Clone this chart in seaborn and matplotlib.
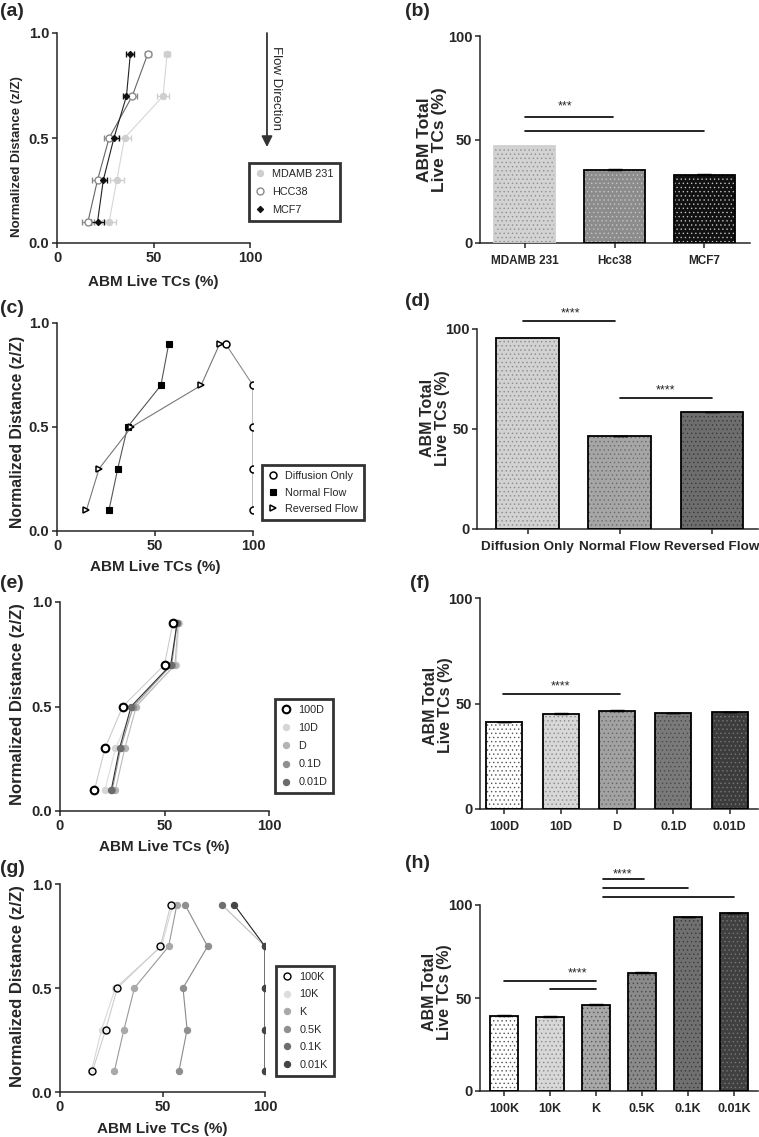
import pandas as pd
import matplotlib
matplotlib.use('Agg')
import matplotlib.pyplot as plt
import seaborn as sns
from matplotlib.lines import Line2D
from matplotlib.patches import Rectangle

# ---- data ----
dist = [0.9, 0.7, 0.5, 0.3, 0.1]

# (a) cell lines, profile along the channel
a_names = ['MDAMB 231', 'HCC38', 'MCF7']
a_mdamb = [57, 55, 35, 31, 27]
a_mdamb_err = [1.5, 3, 3.5, 3.5, 3.5]
a_hcc38 = [47, 39, 27, 21, 16]
a_hcc38_err = [1.5, 2.5, 2.5, 3, 3]
a_mcf7 = [38, 36, 29.5, 24, 21]
a_mcf7_err = [2, 2, 2.5, 2, 3.5]

# (b) totals
b_cats = ['MDAMB 231', 'Hcc38', 'MCF7']
b_vals = [47, 35.5, 33]
b_errs = [0, 0.3, 0.3]

# (c) flow condition profiles
c_names = ['Diffusion Only', 'Normal Flow', 'Reversed Flow']
c_diff = [86, 100, 100, 100, 100]
c_norm = [57, 53, 36, 31, 26.5]
c_rev = [83, 73.5, 38, 21.5, 15]

# (d) totals
d_cats = ['Diffusion Only', 'Normal Flow', 'Reversed Flow']
d_vals = [95.3, 46.3, 58.3]
d_errs = [0, 0.2, 0.2]

# (e) diffusion coefficient profiles
e_names = ['100D', '10D', 'D', '0.1D', '0.01D']
e_100d = [54, 50, 30, 21.5, 16.5]
e_10d = [57, 55.5, 35.5, 26.5, 21.5]
e_d = [56.5, 55, 36.5, 31, 26.5]
e_01d = [56, 53.5, 35, 29, 25]
e_001d = [56, 53, 34, 28.5, 24.5]

# (f) totals
f_cats = ['100D', '10D', 'D', '0.1D', '0.01D']
f_vals = [41.1, 45.2, 46.5, 45.5, 45.8]
f_errs = [0.2, 0.2, 0.2, 0.2, 0.2]

# (g) permeability profiles
g_names = ['100K', '10K', 'K', '0.5K', '0.1K', '0.01K']
g_100k = [54, 49, 28, 22.3, 15.8]
g_10k = [55, 49.5, 27, 20.3, 15.3]
g_k = [57, 53, 36.3, 31.2, 26.5]
g_05k = [61, 72, 60, 62, 58]
g_01k = [79, 100, 100, 100, 100]
g_001k = [85, 100, 100, 100, 100]

# (h) totals
h_cats = ['100K', '10K', 'K', '0.5K', '0.1K', '0.01K']
h_vals = [40.4, 40.0, 46.5, 63.7, 93.4, 95.5]
h_errs = [0.2, 0.2, 0.3, 0.4, 0.2, 0.2]

# significance brackets: (from, to, height)
b_sig = [(0, 0.98, 61), (0, 2, 54.2)]
b_stars = [('***', 0.45, 66)]
d_sig = [(-0.05, 0.95, 104), (1, 2, 65.5)]
d_stars = [('****', 0.47, 108), ('****', 1.5, 69.5)]
f_sig = [(-0.02, 2.05, 54.5)]
f_stars = [('****', 1.0, 58.3)]
h_sig = [(0, 2, 59.2), (1, 2, 54.8), (2.15, 3.05, 113.8), (2.15, 4, 109), (2.15, 5, 104.5)]
h_stars = [('****', 1.6, 63), ('****', 2.57, 116.7)]

# ---- style ----
sns.set_style('ticks')
plt.rcParams['font.family'] = ['Liberation Sans', 'DejaVu Sans']
plt.rcParams['axes.linewidth'] = 1.1
plt.rcParams['hatch.linewidth'] = 0.5

W, H = 759, 1137
fig = plt.figure(figsize=(W / 100, H / 100), dpi=100)


def px_axes(l, r, t, b):
    return fig.add_axes([l / W, 1 - b / H, (r - l) / W, (b - t) / H])


def style_line_axes(ax, ylab_size, ycoords, xcoords):
    ax.set_xlim(0, 100)
    ax.set_ylim(0, 1)
    ax.set_xticks([0, 50, 100])
    ax.set_yticks([0, 0.5, 1.0])
    ax.set_yticklabels(['0.0', '0.5', '1.0'])
    sns.despine(ax=ax)
    ax.tick_params(direction='out', length=3.5, width=1.1, labelsize=10.5, pad=2)
    for lab in ax.get_xticklabels() + ax.get_yticklabels():
        lab.set_fontweight('bold')
    ax.set_xlabel('ABM Live TCs (%)', fontsize=11, fontweight='bold')
    ax.set_ylabel('Normalized Distance (z/Z)', fontsize=ylab_size, fontweight='bold')
    ax.xaxis.set_label_coords(*xcoords)
    ax.yaxis.set_label_coords(*ycoords)


def draw_profile(ax, vals, line_color, marker, ms, mfc, mec, mew=0.8, z=2):
    sns.lineplot(x=vals, y=dist, sort=False, estimator=None, ax=ax, color=line_color,
                 lw=0.8, marker=marker, markersize=ms, markerfacecolor=mfc,
                 markeredgecolor=mec, markeredgewidth=mew, legend=False, zorder=z)


def box_legend(ax, handles, labels, anchor, spacing):
    leg = ax.legend(handles, labels, loc='upper left', bbox_to_anchor=anchor,
                    borderaxespad=0, frameon=True, fancybox=False, fontsize=7.8,
                    handlelength=1.0, handletextpad=0.6, borderpad=0.55,
                    labelspacing=spacing)
    leg.get_frame().set_edgecolor('black')
    leg.get_frame().set_linewidth(2)
    return leg


def mk(marker, mfc, mec, ms=4.5, mew=0.8):
    return Line2D([], [], ls='none', marker=marker, markersize=ms,
                  markerfacecolor=mfc, markeredgecolor=mec, markeredgewidth=mew)


def bar_panel(ax, cats, vals, errs, fills, dots, edges, width, xlim, tick_size,
              ylab_size, ylab_coords, sigs, stars):
    df = pd.DataFrame({'cat': cats, 'val': vals})
    sns.barplot(data=df, x='cat', y='val', hue='cat', palette=dict(zip(cats, fills)),
                legend=False, width=width, saturation=1, linewidth=0, errorbar=None, ax=ax)
    for p, dc, ec in zip(ax.patches, dots, edges):
        p.set_hatch('....')
        p.set_edgecolor(dc)
        p.set_linewidth(0)
        ax.add_patch(Rectangle(p.get_xy(), p.get_width(), p.get_height(), fill=False,
                               ec=ec, lw=1.3, zorder=3))
    idx = [i for i, e in enumerate(errs) if e > 0]
    ax.errorbar(idx, [vals[i] for i in idx], yerr=[[0] * len(idx), [errs[i] for i in idx]],
                fmt='none', ecolor='black', elinewidth=1, capsize=5, capthick=1, zorder=4)
    ax.set_xlim(*xlim)
    ax.set_ylim(0, 100)
    ax.set_yticks([0, 50, 100])
    sns.despine(ax=ax)
    ax.tick_params(direction='out', length=3.5, width=1.1, pad=2)
    ax.tick_params(axis='x', labelsize=tick_size, pad=5)
    ax.tick_params(axis='y', labelsize=10.5)
    for lab in ax.get_xticklabels() + ax.get_yticklabels():
        lab.set_fontweight('bold')
    ax.set_xlabel('')
    ax.set_ylabel('ABM Total\nLive TCs (%)', fontsize=ylab_size, fontweight='bold',
                  linespacing=1.0)
    ax.yaxis.set_label_coords(*ylab_coords)
    for x0, x1, y in sigs:
        ax.plot([x0, x1], [y, y], color='black', lw=1.2, clip_on=False)
    for s, x, y in stars:
        ax.text(x, y, s, ha='center', va='center', fontsize=9, clip_on=False)


# ---- (a) ----
ax = px_axes(57, 250, 33, 243)
ax.errorbar(a_mdamb, dist, xerr=a_mdamb_err, fmt='none', ecolor='#cfcfcf', elinewidth=0.9, capsize=2)
ax.errorbar(a_hcc38, dist, xerr=a_hcc38_err, fmt='none', ecolor='#8a8a8a', elinewidth=0.9, capsize=2)
ax.errorbar(a_mcf7, dist, xerr=a_mcf7_err, fmt='none', ecolor='#111111', elinewidth=0.9, capsize=2)
draw_profile(ax, a_mdamb, '#d6d6d6', 'o', 4.5, '#cfcfcf', '#cfcfcf')
draw_profile(ax, a_hcc38, '#666666', 'o', 5, 'white', '#8a8a8a', 1.0)
draw_profile(ax, a_mcf7, '#222222', 'D', 3.2, '#111111', '#111111')
style_line_axes(ax, 9.5, (-0.176, 0.41), (0.5, -0.152))
box_legend(ax, [mk('o', '#cfcfcf', '#cfcfcf'), mk('o', 'white', '#8a8a8a', 5, 1.0),
                mk('D', '#111111', '#111111', 3.2)], a_names, (0.995, 0.381), 0.75)
ax.annotate('', xy=(1.088, 0.457), xytext=(1.088, 1.0), xycoords='axes fraction',
            arrowprops=dict(arrowstyle='-|>', color='#333333', lw=1.3, mutation_scale=16,
                            shrinkA=0, shrinkB=0), annotation_clip=False)
ax.text(1.135, 0.738, 'Flow Direction', rotation=270, transform=ax.transAxes,
        ha='center', va='center', fontsize=9.5)

# ---- (b) ----
ax = px_axes(480, 750, 36, 243)
bar_panel(ax, b_cats, b_vals, b_errs, ['#d3d3d3', '#8c8c8c', '#111111'],
          ['#8f8f8f', '#c4c4c4', '#bdbdbd'], ['#d0d0d0', 'black', 'black'], 0.68,
          (-0.5, 2.51), 8.5, 12.5, (-0.122, 0.5), b_sig, b_stars)

# ---- (c) ----
ax = px_axes(57, 253, 323, 531)
draw_profile(ax, c_diff, '#8a8a8a', 'o', 5, 'white', 'black', 1.1)
draw_profile(ax, c_norm, '#555555', 's', 4.5, 'black', 'black')
draw_profile(ax, c_rev, '#777777', '>', 5, 'white', 'black', 1.1)
style_line_axes(ax, 11.3, (-0.163, 0.476), (0.5, -0.139))
box_legend(ax, [mk('o', 'white', 'black', 5, 1.1), mk('s', 'black', 'black'),
                mk('>', 'white', 'black', 5, 1.1)], c_names, (1.046, 0.317), 0.6)

# ---- (d) ----
ax = px_axes(477, 758, 329, 529)
bar_panel(ax, d_cats, d_vals, d_errs, ['#d2d2d2', '#a6a6a6', '#6e6e6e'],
          ['#8a8a8a', '#6a6a6a', '#3a3a3a'], ['black', 'black', 'black'], 0.68,
          (-0.55, 2.5), 9.7, 11.5, (-0.096, 0.555), d_sig, d_stars)

# ---- (e) ----
ax = px_axes(60, 269, 602, 811)
e_cols = ['#d6d6d6', '#b3b3b3', '#8f8f8f', '#6b6b6b']
draw_profile(ax, e_10d, '#dddddd', 'o', 4.5, e_cols[0], e_cols[0], z=2)
draw_profile(ax, e_d, '#bbbbbb', 'o', 4.5, e_cols[1], e_cols[1], z=2)
draw_profile(ax, e_01d, '#999999', 'o', 4.5, e_cols[2], e_cols[2], z=2)
draw_profile(ax, e_001d, '#333333', 'o', 4.5, e_cols[3], e_cols[3], z=2)
draw_profile(ax, e_100d, '#cccccc', 'o', 5.5, 'white', 'black', 1.5, z=3)
style_line_axes(ax, 12, (-0.167, 0.512), (0.5, -0.139))
box_legend(ax, [mk('o', 'white', 'black', 5.5, 1.5)] + [mk('o', c, c) for c in e_cols],
           e_names, (1.029, 0.536), 0.75)

# ---- (f) ----
ax = px_axes(480, 758, 598, 809)
bar_panel(ax, f_cats, f_vals, f_errs, ['#ffffff', '#d8d8d8', '#a2a2a2', '#7a7a7a', '#3c3c3c'],
          ['#555555', '#8a8a8a', '#666666', '#4a4a4a', '#777777'], ['black'] * 5, 0.64,
          (-0.43, 4.5), 9, 11.5, (-0.097, 0.49), f_sig, f_stars)

# ---- (g) ----
ax = px_axes(60, 265, 884, 1092)
g_cols = ['#dddddd', '#a9a9a9', '#8f8f8f', '#6e6e6e', '#444444']
draw_profile(ax, g_10k, '#d8d8d8', 'o', 4.5, g_cols[0], g_cols[0])
draw_profile(ax, g_k, '#999999', 'o', 4.5, g_cols[1], g_cols[1])
draw_profile(ax, g_05k, '#8a8a8a', 'o', 4.5, g_cols[2], g_cols[2])
draw_profile(ax, g_01k, '#bbbbbb', 'o', 4.5, g_cols[3], g_cols[3])
draw_profile(ax, g_001k, '#222222', 'o', 4.5, g_cols[4], g_cols[4])
draw_profile(ax, g_100k, '#cccccc', 'o', 5, '#eeeeee', 'black', 1.0, z=3)
style_line_axes(ax, 12, (-0.171, 0.507), (0.5, -0.143))
box_legend(ax, [mk('o', 'white', 'black', 5, 1.0)] + [mk('o', c, c) for c in g_cols],
           g_names, (1.054, 0.606), 0.7)

# ---- (h) ----
ax = px_axes(480, 758, 905, 1091)
bar_panel(ax, h_cats, h_vals, h_errs,
          ['#ffffff', '#d8d8d8', '#a8a8a8', '#8a8a8a', '#707070', '#404040'],
          ['#555555', '#8a8a8a', '#5a5a5a', '#4a4a4a', '#3a3a3a', '#777777'], ['black'] * 6,
          0.62, (-0.52, 5.52), 9, 11.5, (-0.1, 0.53), h_sig, h_stars)

# panel letters
for lab, x, y in [('(a)', 0, 3), ('(b)', 405, 3), ('(c)', 0, 300), ('(d)', 405, 293),
                  ('(e)', 0, 575), ('(f)', 410, 575), ('(g)', 0, 860), ('(h)', 405, 855)]:
    fig.text(x / W, 1 - y / H, lab, fontsize=14, fontweight='bold', va='top', ha='left')

fig.savefig('out.png', dpi=100)
